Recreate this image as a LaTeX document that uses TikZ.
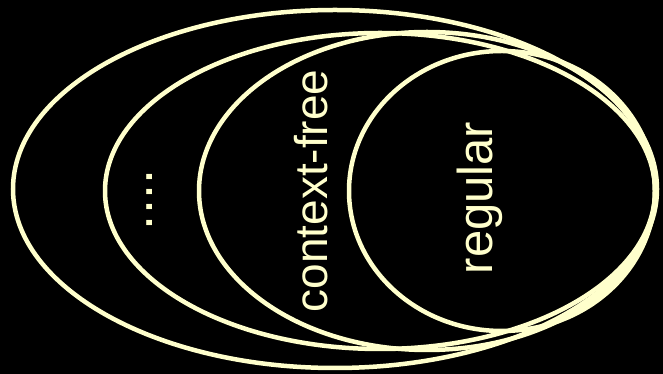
\documentclass[tikz,border=0pt]{standalone}
\usepackage{fontspec}
\setmainfont{Liberation Sans}
\definecolor{setcream}{HTML}{FFFFCC}
\usetikzlibrary{positioning}

\begin{document}
\begin{tikzpicture}[
  x=1pt, y=1pt,
  lang/.style={draw=setcream, line width=4.5pt},
  lbl/.style={text=setcream, rotate=90, inner sep=0pt}
]
  \fill[black] (0,0) rectangle (663,374);
  \useasboundingbox (0,0) rectangle (663,374);

  % nested language classes
  \draw[lang] (335,185) ellipse [x radius=322, y radius=179];
  \draw[lang] (380,183) ellipse [x radius=275, y radius=158];
  \draw[lang] (427,183) ellipse [x radius=228, y radius=159];
  \draw[lang] (502,183) ellipse [x radius=153, y radius=140];

  \node[lbl, font=\fontsize{54}{54}\selectfont] (dots) at (150,174) {....};
  \node[lbl, font=\fontsize{46}{46}\selectfont] (cfree) at (311,183) {context-free};
  \node[lbl, font=\fontsize{49}{49}\selectfont] (reg) at (480,176) {regular};
\end{tikzpicture}
\end{document}
